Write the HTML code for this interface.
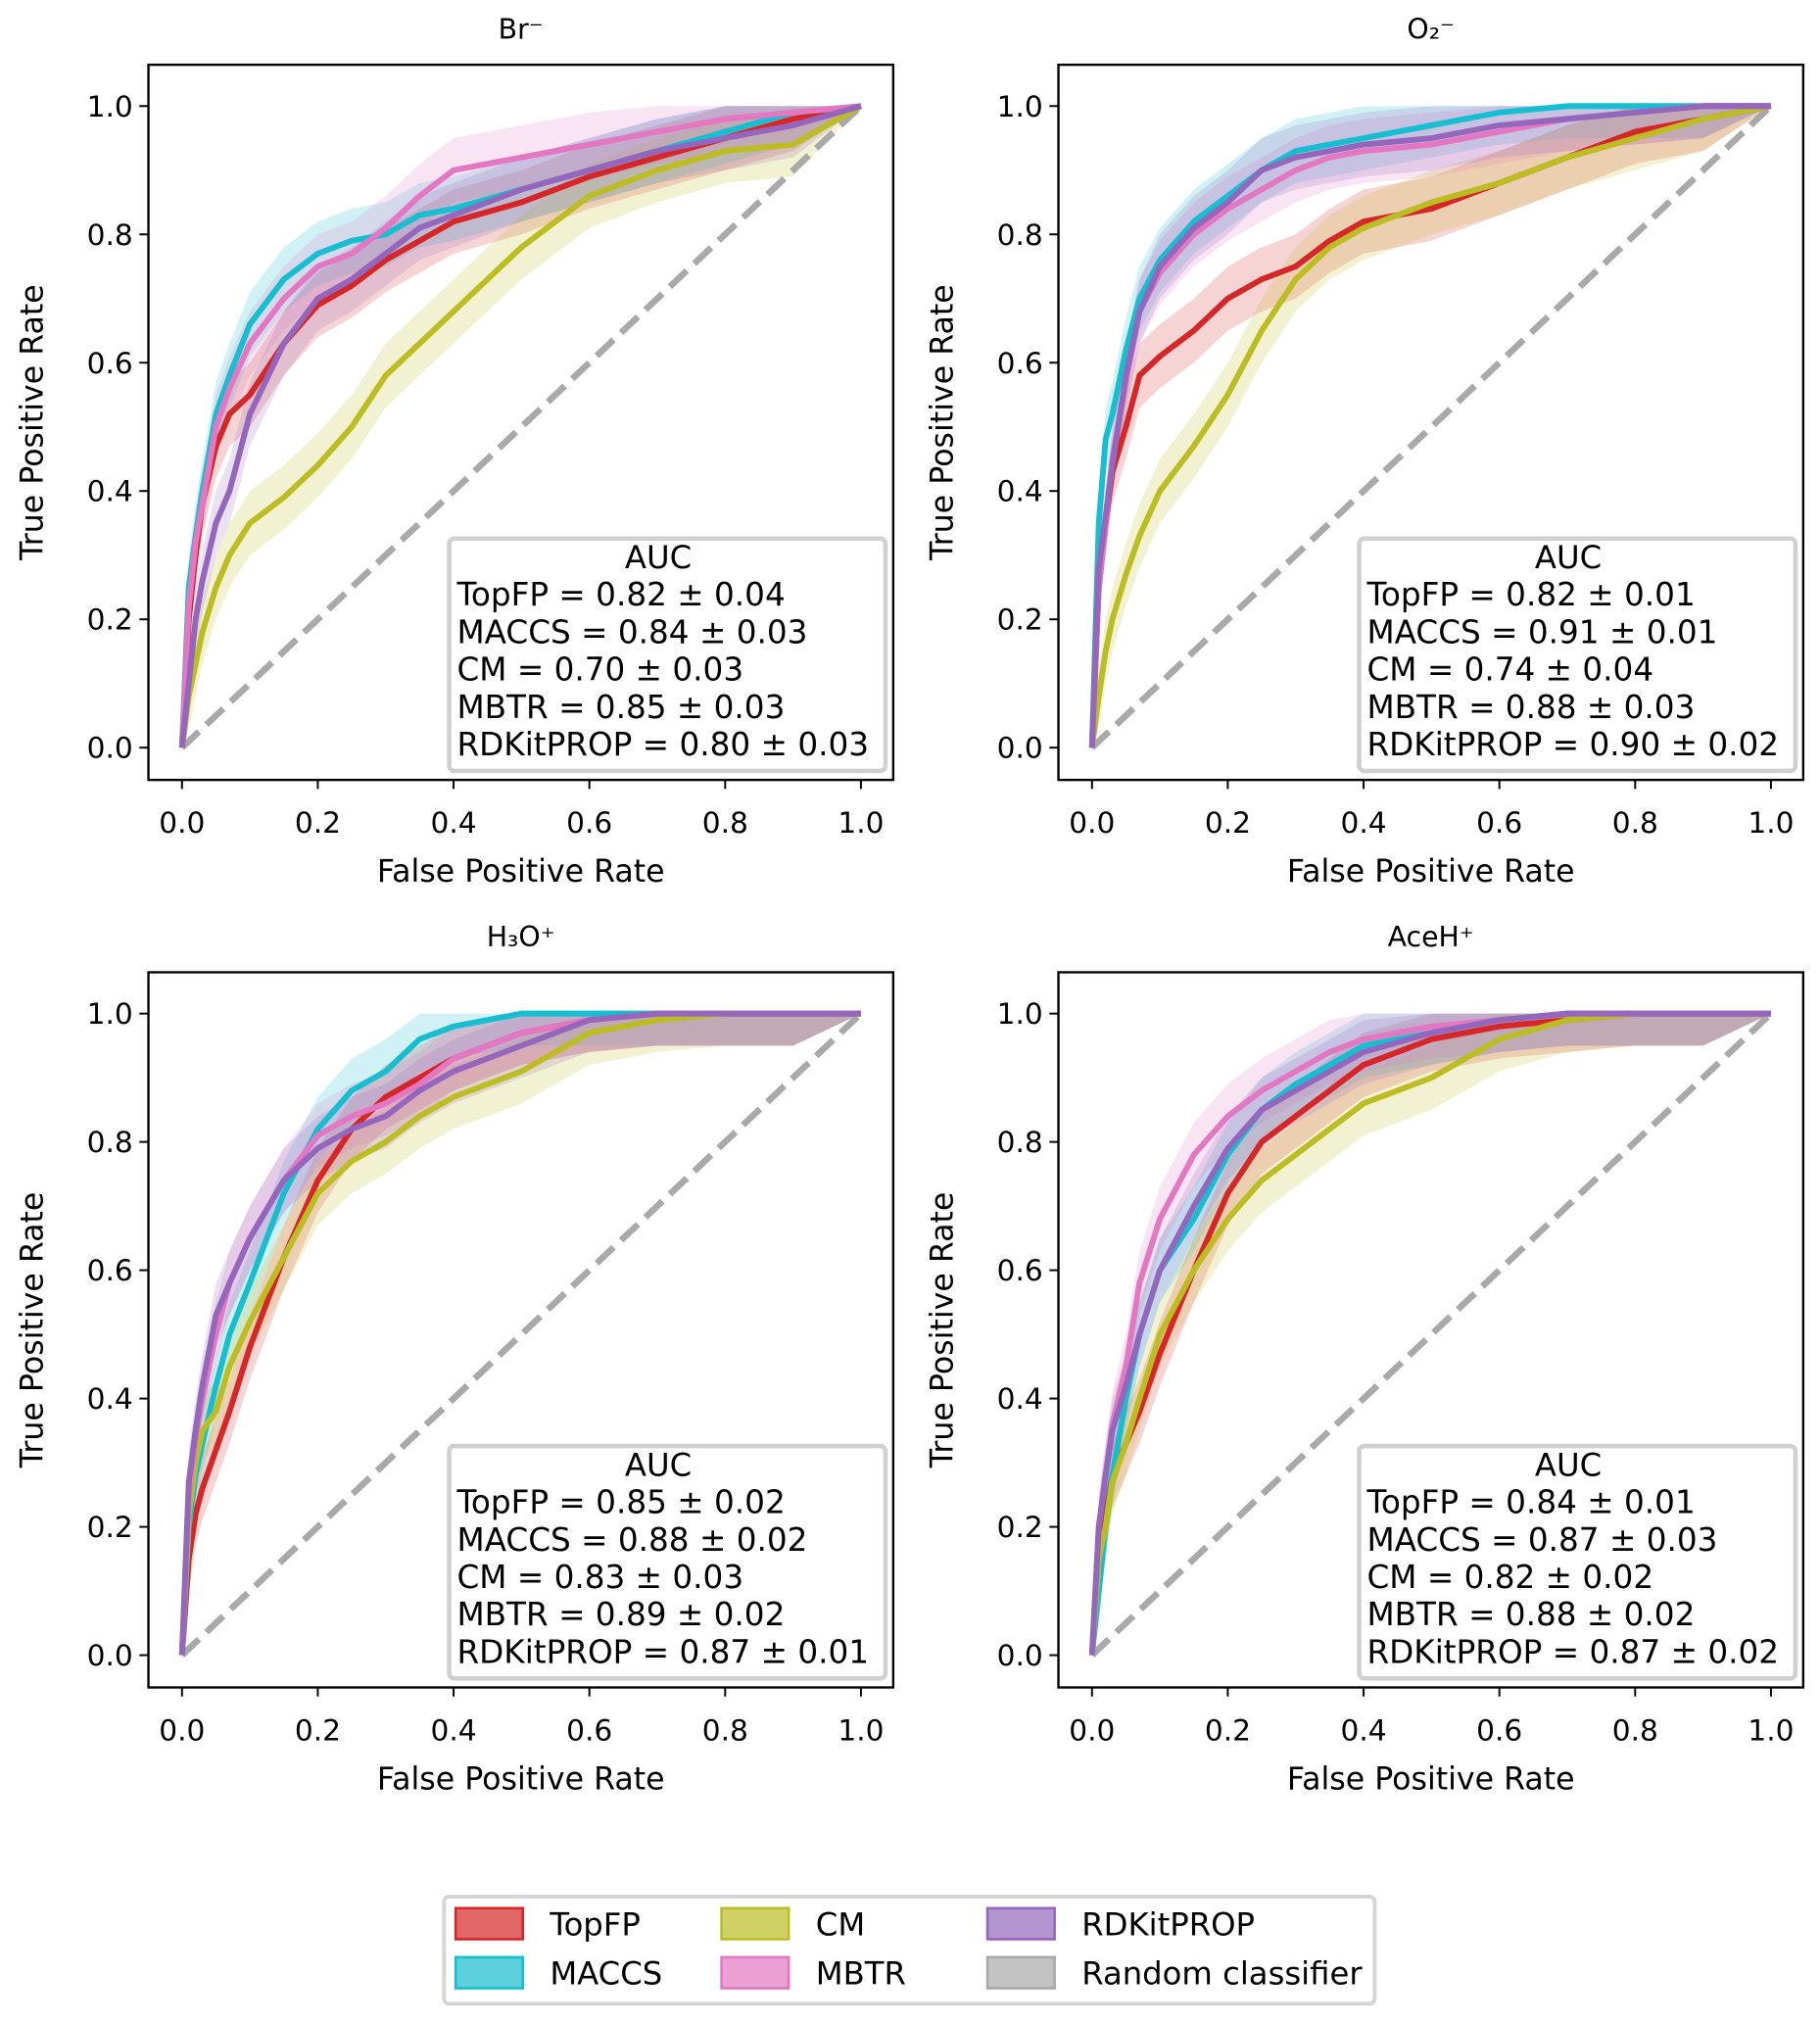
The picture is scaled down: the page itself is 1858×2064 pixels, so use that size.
<!DOCTYPE html>
<html><head><meta charset="utf-8"><style>
html,body{margin:0;padding:0;background:#fff;}
svg{display:block;font-family:"DejaVu Sans","Liberation Sans",sans-serif;}
</style></head><body>
<svg id="chart" width="1858" height="2064" viewBox="0 0 1410 1566" xmlns="http://www.w3.org/2000/svg"></svg>
<script>
const fprGrid = [0,0.01,0.02,0.03,0.05,0.07,0.1,0.15,0.2,0.25,0.3,0.35,0.4,0.5,0.6,0.7,0.8,0.9,1.0];
const seriesNames = ["TopFP","MACCS","CM","MBTR","RDKitPROP"];
const panelTitles = ["Br\u207B","O\u2082\u207B","H\u2083O\u207A","AceH\u207A"];
const brValues = [
 [0,.2,.3,.38,.47,.52,.55,.63,.69,.72,.76,.79,.82,.85,.89,.92,.95,.98,1],
 [0,.25,.33,.4,.52,.58,.66,.73,.77,.79,.80,.83,.84,.87,.90,.93,.96,.99,1],
 [0,.08,.13,.18,.25,.3,.35,.39,.44,.5,.58,.63,.68,.78,.86,.9,.93,.94,1],
 [0,.22,.32,.38,.5,.56,.63,.7,.75,.77,.81,.86,.9,.92,.94,.96,.98,.99,1],
 [0,.1,.2,.26,.35,.4,.52,.63,.70,.73,.77,.81,.83,.87,.9,.93,.95,.97,1]];
const o2Values = [
 [0,.25,.35,.43,.5,.58,.61,.65,.70,.73,.75,.79,.82,.84,.88,.92,.96,.98,1],
 [0,.35,.48,.52,.62,.7,.76,.82,.86,.9,.93,.94,.95,.97,.99,1,1,1,1],
 [0,.08,.15,.2,.27,.33,.4,.47,.55,.65,.73,.78,.81,.85,.88,.92,.95,.98,1],
 [0,.25,.35,.45,.57,.68,.74,.8,.84,.87,.9,.92,.93,.94,.96,.98,.99,1,1],
 [0,.28,.36,.44,.58,.68,.75,.81,.85,.9,.92,.93,.94,.95,.97,.98,.99,1,1]];
const h3oValues = [
 [0,.15,.22,.26,.32,.38,.48,.62,.74,.82,.87,.9,.93,.97,.99,1,1,1,1],
 [0,.2,.28,.33,.42,.5,.58,.72,.82,.88,.91,.96,.98,1,1,1,1,1,1],
 [0,.22,.3,.35,.38,.45,.52,.62,.72,.77,.8,.84,.87,.91,.97,.99,1,1,1],
 [0,.25,.34,.4,.5,.58,.65,.74,.81,.84,.86,.89,.93,.97,.99,1,1,1,1],
 [0,.27,.35,.42,.53,.58,.65,.74,.79,.82,.84,.88,.91,.95,.99,1,1,1,1]];
const acehValues = [
 [0,.15,.22,.28,.33,.38,.47,.6,.72,.8,.84,.88,.92,.96,.98,.99,1,1,1],
 [0,.1,.2,.28,.4,.5,.6,.68,.78,.85,.89,.92,.95,.97,.99,1,1,1,1],
 [0,.15,.2,.27,.33,.4,.5,.6,.68,.74,.78,.82,.86,.9,.96,.99,1,1,1],
 [0,.2,.28,.36,.45,.58,.68,.78,.84,.88,.91,.94,.96,.98,.99,1,1,1,1],
 [0,.2,.28,.35,.42,.5,.6,.7,.79,.85,.88,.91,.94,.97,.99,1,1,1,1]];
const bandStd = [0.05,0.05,0.05,0.05,0.05];
const aucLabels = [
 ["0.82 \u00B1 0.04","0.84 \u00B1 0.03","0.70 \u00B1 0.03","0.85 \u00B1 0.03","0.80 \u00B1 0.03"],
 ["0.82 \u00B1 0.01","0.91 \u00B1 0.01","0.74 \u00B1 0.04","0.88 \u00B1 0.03","0.90 \u00B1 0.02"],
 ["0.85 \u00B1 0.02","0.88 \u00B1 0.02","0.83 \u00B1 0.03","0.89 \u00B1 0.02","0.87 \u00B1 0.01"],
 ["0.84 \u00B1 0.01","0.87 \u00B1 0.03","0.82 \u00B1 0.02","0.88 \u00B1 0.02","0.87 \u00B1 0.02"]];
const tickLabels = ["0.0","0.2","0.4","0.6","0.8","1.0"];
const tickValues = [0,0.2,0.4,0.6,0.8,1.0];
const panelData = [brValues,o2Values,h3oValues,acehValues];
const colors = ["#d62728","#17becf","#bcbd22","#e377c2","#9467bd"];

const NS="http://www.w3.org/2000/svg";
const svg=document.getElementById('chart');
function mk(tag,attrs,parent){const e=document.createElementNS(NS,tag);for(const k in attrs)e.setAttribute(k,attrs[k]);(parent||svg).appendChild(e);return e;}
const panels=[{l:115,t:50},{l:820,t:50},{l:115,t:753},{l:820,t:753}];
const W=577,H=554;
panels.forEach((p,pi)=>{
  const g=mk('g',{});
  
  
  const x0=p.l+26,x1=p.l+552,y0=p.t+529,y1=p.t+32;
  const sx=v=>x0+v*(x1-x0), sy=v=>y0-v*(y0-y1);
  const data=panelData[pi];
  data.forEach((vals,si)=>{
    let up=vals.map((v,i)=>[sx(fprGrid[i]),sy(Math.min(1,v+bandStd[si]*(i>0&&i<vals.length-1?1:0)))]);
    let lo=vals.map((v,i)=>[sx(fprGrid[i]),sy(Math.max(0,v-bandStd[si]*(i>0&&i<vals.length-1?1:0)))]).reverse();
    const b=mk('polygon',{points:up.concat(lo).map(q=>q.join(',')).join(' '),fill:colors[si],'fill-opacity':0.2,stroke:'none'},g);
    
    
  });
  const d=mk('line',{x1:sx(0),y1:sy(0),x2:sx(1),y2:sy(1),stroke:'#a9a9a9','stroke-width':5,'stroke-dasharray':'18,8'},g);
  
  
  data.forEach((vals,si)=>{
    const l=mk('polyline',{points:vals.map((v,i)=>sx(fprGrid[i])+','+sy(v)).join(' '),fill:'none',stroke:colors[si],'stroke-width':4.5,'stroke-linejoin':'round'},g);
    
    
  });
  const fr=mk('rect',{x:p.l,y:p.t,width:W,height:H,fill:'none',stroke:'#000','stroke-width':1.8},g);
  
  
  tickValues.forEach((v,i)=>{
    mk('line',{x1:sx(v),x2:sx(v),y1:p.t+H,y2:p.t+H+7,stroke:'#000','stroke-width':1.5},g);
    const tx=mk('text',{x:sx(v),y:p.t+H+41,'font-size':22.5,'text-anchor':'middle'},g);tx.textContent=tickLabels[i];
    
    
    mk('line',{x1:p.l,x2:p.l-7,y1:sy(v),y2:sy(v),stroke:'#000','stroke-width':1.5},g);
    const ty=mk('text',{x:p.l-12,y:sy(v)+8,'font-size':22.5,'text-anchor':'end'},g);ty.textContent=tickLabels[i];
    
    
  });
  const xl=mk('text',{x:p.l+W/2,y:p.t+H+79,'font-size':24,'text-anchor':'middle'},g);xl.textContent='False Positive Rate';
  
  
  const yl=mk('text',{x:0,y:0,'font-size':24,'text-anchor':'middle',transform:`translate(${p.l-82},${p.t+H/2}) rotate(-90)`},g);yl.textContent='True Positive Rate';
  
  
  const tt=mk('text',{x:p.l+W/2,y:p.t-20,'font-size':21.5,'text-anchor':'middle'},g);tt.textContent=panelTitles[pi];
  
  
  const lg=mk('rect',{x:p.l+233,y:p.t+367,width:338,height:180,rx:4,fill:'#fff','fill-opacity':0.8,stroke:'#d0d0d0','stroke-width':3.5},g);
  
  
  const ah=mk('text',{x:p.l+395,y:p.t+390,'font-size':24.5,'text-anchor':'middle'},g);ah.textContent='AUC';
  
  
  seriesNames.forEach((n,si)=>{
    const t=mk('text',{x:p.l+239,y:p.t+419+si*29,'font-size':24.8},g);t.textContent=n+' = '+aucLabels[pi][si];
    
    
  });
});
const lb=mk('rect',{x:344,y:1469,width:721,height:83,rx:4,fill:'#fff',stroke:'#d5d5d5','stroke-width':3});


const legNames=["TopFP","MACCS","CM","MBTR","RDKitPROP","Random classifier"];
const legCols=["#d62728","#17becf","#bcbd22","#e377c2","#9467bd","#a9a9a9"];
legNames.forEach((n,i)=>{
  const col=Math.floor(i/2),row=i%2;
  const x=353+col*206,y=1478+row*38;
  const r=mk('rect',{x:x,y:y,width:52,height:24,fill:legCols[i],'fill-opacity':0.7,stroke:legCols[i],'stroke-width':2});
  
  
  const t=mk('text',{x:x+73,y:y+21,'font-size':24.5});t.textContent=n;
  
  
});
</script>
</body></html>
